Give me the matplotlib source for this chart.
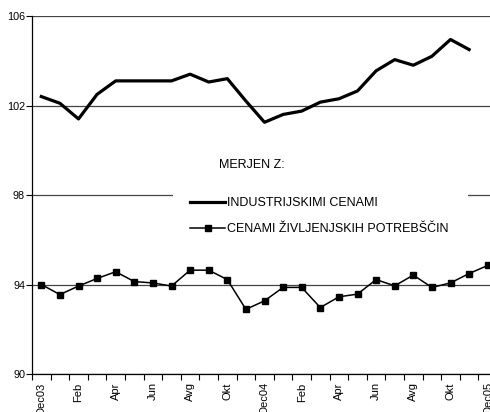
import matplotlib
matplotlib.use("Agg")
import matplotlib.pyplot as plt
import numpy as np
from matplotlib.patches import Rectangle

plt.rcParams['font.family'] = ['Liberation Sans', 'DejaVu Sans']

months = ["Dec03", "Jan", "Feb", "Mar", "Apr", "Maj", "Jun", "Jul", "Avg", "Sep", "Okt", "Nov",
          "Dec04", "Jan", "Feb", "Mar", "Apr", "Maj", "Jun", "Jul", "Avg", "Sep", "Okt", "Nov",
          "Dec05"]
industrijske = [102.4, 102.1, 101.4, 102.5, 103.1, 103.1, 103.1, 103.1, 103.4, 103.05, 103.2, 102.2,
                101.25, 101.6, 101.75, 102.15, 102.3, 102.65, 103.55, 104.05, 103.8, 104.2, 104.95, 104.5,
                np.nan]
zivljenjske = [94.0, 93.55, 93.93, 94.27, 94.57, 94.13, 94.07, 93.93, 94.64, 94.64, 94.22, 92.89,
               93.27, 93.87, 93.87, 92.97, 93.45, 93.57, 94.22, 93.94, 94.42, 93.87, 94.07, 94.49,
               94.85]
label_every = 2
legend_title = "MERJEN Z:"
labels = ["INDUSTRIJSKIMI CENAMI", "CENAMI ŽIVLJENJSKIH POTREBŠČIN"]

W, H = 490, 412
fig = plt.figure(figsize=(W / 100, H / 100), dpi=100)
ax = fig.add_axes([32 / W, 1 - 374 / H, 465 / W, 358 / H])

x = np.arange(len(months))
ax.plot(x, industrijske, color='black', lw=2.3, label=labels[0], zorder=3)
ax.plot(x, zivljenjske, color='black', lw=1.1, marker='s', markersize=5, label=labels[1], zorder=3)

ax.set_xlim(-0.5, len(months) - 0.5)
ax.set_ylim(90, 106)
ax.set_yticks([90, 94, 98, 102, 106])
ax.set_axisbelow(True)
ax.yaxis.grid(True, color='#444444', lw=0.9)

ax.set_xticks(x[::label_every])
ax.set_xticklabels(months[::label_every], rotation=90, va='top', ha='center')
ax.set_xticks(np.arange(-0.5, len(months)), minor=True)
ax.tick_params(axis='x', which='major', length=0, pad=6, labelsize=8)
ax.tick_params(axis='x', which='minor', length=4, width=0.8, direction='out')
ax.tick_params(axis='y', length=4, width=0.8, pad=1, labelsize=7.8)

for side in ('top', 'right'):
    ax.spines[side].set_visible(False)
for side in ('left', 'bottom'):
    ax.spines[side].set_linewidth(0.9)

# white area behind legend hides the 98 gridline
ax.add_patch(Rectangle(((173 - 32) / 465, 0.35), (468 - 173) / 465, 0.25,
                       transform=ax.transAxes, facecolor='white', edgecolor='none', zorder=1))

ax.text(219 / W, 1 - 165 / H, legend_title, transform=fig.transFigure, fontsize=9,
        ha='left', va='center')
ax.legend(loc='upper left', bbox_to_anchor=(190 / W, 1 - 197 / H), bbox_transform=fig.transFigure,
          frameon=False, fontsize=9, borderpad=0, borderaxespad=0, handlelength=2.8,
          handletextpad=0.15, labelspacing=1.15, markerscale=1.0)

fig.savefig("out.png", dpi=100)
